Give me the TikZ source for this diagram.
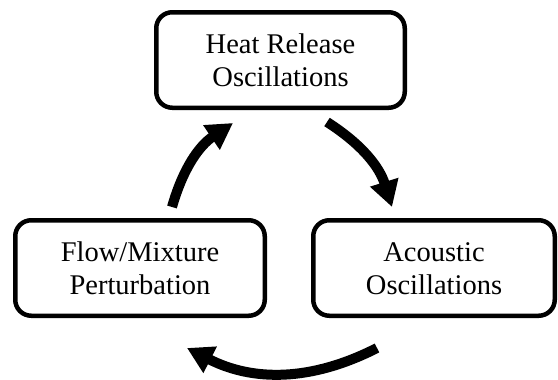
\documentclass[tikz,border=0pt]{standalone}
\usepackage{fontspec}
\setmainfont{Liberation Serif}
\usetikzlibrary{arrows.meta}
% strut that gives every line the same height and depth
\newcommand{\linestrut}{\rule[-4pt]{0pt}{27pt}}
\tikzset{
  stagebox/.style={draw=black, line width=4.5pt, rounded corners=16pt,
    fill=white, inner sep=0pt, align=center,
    font=\fontsize{28.5}{33}\selectfont},
  cyclearrow/.style={line width=10pt,
    -{Triangle[length=26pt,width=28pt]}}
}
\begin{document}
\begin{tikzpicture}[x=1pt,y=-1pt]
\useasboundingbox (0,0) rectangle (558,380);

% the three stages of the loop
\node[stagebox, minimum width=248.5pt, minimum height=95.5pt] (heat) at (280.5,60)
  {\linestrut Heat Release\\\linestrut Oscillations};
\node[stagebox, minimum width=249.5pt, minimum height=95.5pt] (flow) at (140,268)
  {\linestrut Flow/Mixture\\\linestrut Perturbation};
\node[stagebox, minimum width=241.5pt, minimum height=95.5pt] (acou) at (434,268)
  {\linestrut Acoustic\\\linestrut Oscillations};

% end points of the curved arrows
\coordinate (a1s) at (172,207);
\coordinate (a1e) at (233,123);
\coordinate (a2s) at (327,122);
\coordinate (a2e) at (392,207);
\coordinate (a3s) at (377,348);
\coordinate (a3e) at (187,348);

\draw[cyclearrow] (a1s) to[bend left=20] (a1e);
\draw[cyclearrow] (a2s) to[bend left=20] (a2e);
\draw[cyclearrow] (a3s) to[bend left=27] (a3e);
\end{tikzpicture}
\end{document}
